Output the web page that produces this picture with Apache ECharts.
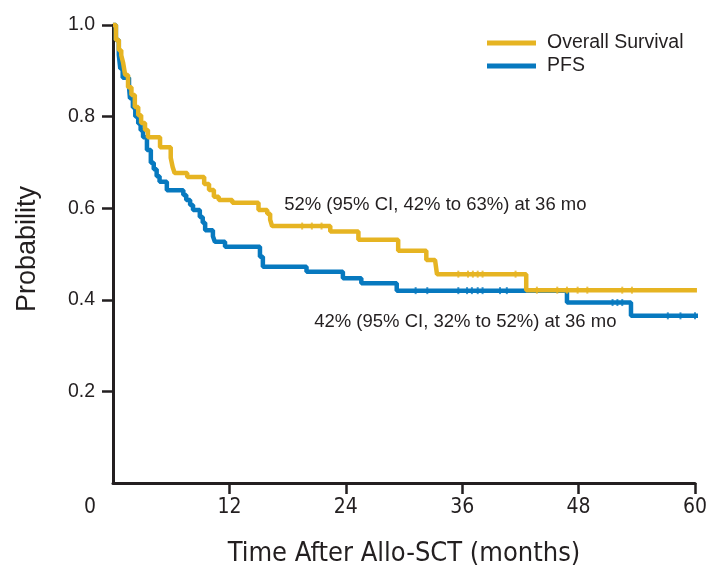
<!DOCTYPE html>
<html>
<head>
<meta charset="utf-8">
<script src="https://cdn.jsdelivr.net/npm/echarts@6/dist/echarts.min.js"></script>
<style>
html,body{margin:0;padding:0;background:#fff;}
#chart{width:712px;height:579px;}
</style>
</head>
<body>
<div id="chart"></div>
<script>
// ---- Data ----
var seriesNames = ['Overall Survival', 'PFS'];
var xTickValues = [0, 12, 24, 36, 48, 60];
var yTickValues = [0.2, 0.4, 0.6, 0.8, 1.0];

// Kaplan-Meier step points: [month, survival probability after that month]
var osSteps = [
  [0, 1.0], [0.3, 0.967], [0.6, 0.945], [0.85, 0.934], [1.05, 0.917], [1.25, 0.891],
  [1.55, 0.864], [1.9, 0.847], [2.25, 0.821], [2.6, 0.803], [2.9, 0.786], [3.3, 0.771],
  [3.6, 0.755], [4.85, 0.733], [5.95, 0.71], [6.15, 0.69], [6.35, 0.677], [7.65, 0.668],
  [9.4, 0.653], [9.9, 0.64], [10.4, 0.625], [10.9, 0.618], [12.3, 0.612], [15.0, 0.596],
  [15.9, 0.588], [16.2, 0.575], [16.4, 0.561], [22.4, 0.549], [25.3, 0.531], [29.4, 0.507],
  [32.3, 0.487], [33.2, 0.483], [33.4, 0.456], [42.6, 0.421], [60.2, 0.421]
];
var pfsSteps = [
  [0, 1.0], [0.3, 0.967], [0.6, 0.935], [0.75, 0.905], [1.0, 0.885], [1.65, 0.865],
  [1.75, 0.84], [2.05, 0.82], [2.3, 0.80], [2.6, 0.785], [2.85, 0.77], [3.1, 0.755],
  [3.5, 0.727], [3.9, 0.699], [4.2, 0.685], [4.5, 0.67], [4.8, 0.658], [5.55, 0.639],
  [7.25, 0.629], [7.55, 0.618], [7.95, 0.607], [8.25, 0.596], [8.95, 0.581], [9.25, 0.568],
  [9.5, 0.552], [10.3, 0.539], [10.5, 0.527], [11.55, 0.516], [15.15, 0.494], [15.45, 0.472],
  [19.95, 0.461], [23.7, 0.447], [25.6, 0.436], [29.25, 0.42], [46.8, 0.394], [53.4, 0.365],
  [60.6, 0.365]
];
// Censoring tick times (months)
var osCensor = [19.5, 20.5, 21.5, 35.6, 36.6, 37.1, 37.6, 38.1, 41.5, 43.7, 45.8, 46.8, 47.9, 48.9, 52.5, 53.5];
var pfsCensor = [31.2, 32.4, 35.6, 36.5, 37.0, 37.6, 38.1, 39.9, 40.6, 51.5, 52.0, 52.5, 57.2, 58.5, 60.0];

// Annotations: [month, probability, text]
var osNote = [17.65, 0.607, '52% (95% CI, 42% to 63%) at 36 mo'];
var pfsNote = [20.74, 0.352, '42% (95% CI, 32% to 52%) at 36 mo'];

// ---- Helpers ----
function stepValue(steps, t) {
  var v = steps[0][1];
  for (var i = 0; i < steps.length; i++) { if (steps[i][0] <= t) v = steps[i][1]; }
  return v;
}
function censorPoints(steps, times) {
  return times.map(function (t) { return [t, stepValue(steps, t)]; });
}

var INK = '#231f20';
var YELLOW = '#E6B422';
var BLUE = '#0779BF';
var NARROW = "'Liberation Sans Narrow', 'DejaVu Sans Condensed', 'Arial Narrow', sans-serif";
var REG = "'Liberation Sans', Arial, Helvetica, sans-serif";

var chart = echarts.init(document.getElementById('chart'), null, {renderer: 'canvas'});
var option = {
  animation: false,
  backgroundColor: '#ffffff',
  grid: {left: 113, right: 17, top: 25, bottom: 96, containLabel: false},
  legend: {
    data: seriesNames,
    orient: 'vertical',
    left: 487,
    top: 33,
    padding: 0,
    icon: 'rect',
    itemWidth: 49,
    itemHeight: 5,
    itemGap: 3,
    textStyle: {fontFamily: REG, fontSize: 19.5, color: INK, lineHeight: 20, padding: [0, 0, 0, 6]}
  },
  xAxis: {
    type: 'value', min: 0, max: 60, interval: 12,
    splitLine: {show: false},
    axisLine: {show: true, onZero: false, lineStyle: {color: INK, width: 3}},
    axisTick: {show: true, length: 11, lineStyle: {color: INK, width: 2.5}, customValues: xTickValues.filter(function (v) { return v !== 0; })},
    axisLabel: {
      customValues: xTickValues,
      margin: 14,
      fontFamily: NARROW, fontSize: 21, color: INK,
      formatter: function (v) { return v === 0 ? '{o|0}' : String(v); },
      rich: {o: {fontFamily: NARROW, fontSize: 21, color: INK, padding: [0, 46, 0, 0]}}
    },
    name: 'Time After Allo-SCT (months)',
    nameLocation: 'middle',
    nameGap: 57,
    nameTextStyle: {fontFamily: NARROW, fontSize: 27, color: INK}
  },
  yAxis: {
    type: 'value', min: 0, max: 1, interval: 0.2,
    splitLine: {show: false},
    axisLine: {show: true, onZero: false, lineStyle: {color: INK, width: 3}},
    axisTick: {show: true, length: 11, lineStyle: {color: INK, width: 2.5}, customValues: yTickValues},
    axisLabel: {
      customValues: yTickValues,
      margin: 18,
      fontFamily: REG, fontSize: 19.5, color: INK,
      formatter: function (v) { return v.toFixed(1); }
    },
    name: 'Probability',
    nameLocation: 'middle',
    nameGap: 72,
    nameRotate: 90,
    nameTextStyle: {fontFamily: REG, fontSize: 27, color: INK, padding: [0, 0, 0, 10]}
  },
  series: [
    {
      name: 'PFS', type: 'line', step: 'end', data: pfsSteps,
      showSymbol: false, symbol: 'none', clip: false, z: 2,
      lineStyle: {color: BLUE, width: 4.5}, itemStyle: {color: BLUE},
      markPoint: {
        symbol: 'circle', symbolSize: 0, silent: true,
        data: [{coord: [pfsNote[0], pfsNote[1]], value: pfsNote[2]}],
        label: {show: true, position: 'right', distance: 0, formatter: pfsNote[2],
          fontFamily: REG, fontSize: 18.5, color: INK}
      }
    },
    {
      name: 'Overall Survival', type: 'line', step: 'end', data: osSteps,
      showSymbol: false, symbol: 'none', clip: false, z: 3,
      lineStyle: {color: YELLOW, width: 4.5}, itemStyle: {color: YELLOW},
      markPoint: {
        symbol: 'circle', symbolSize: 0, silent: true,
        data: [{coord: [osNote[0], osNote[1]], value: osNote[2]}],
        label: {show: true, position: 'right', distance: 0, formatter: osNote[2],
          fontFamily: REG, fontSize: 18.5, color: INK}
      }
    },
    {
      name: 'PFS censor', type: 'scatter', data: censorPoints(pfsSteps, pfsCensor),
      symbol: 'rect', symbolSize: [2, 7], z: 2, silent: true,
      itemStyle: {color: BLUE}
    },
    {
      name: 'OS censor', type: 'scatter', data: censorPoints(osSteps, osCensor),
      symbol: 'rect', symbolSize: [2, 7], z: 3, silent: true,
      itemStyle: {color: YELLOW}
    }
  ]
};
chart.setOption(option);
</script>
</body>
</html>
